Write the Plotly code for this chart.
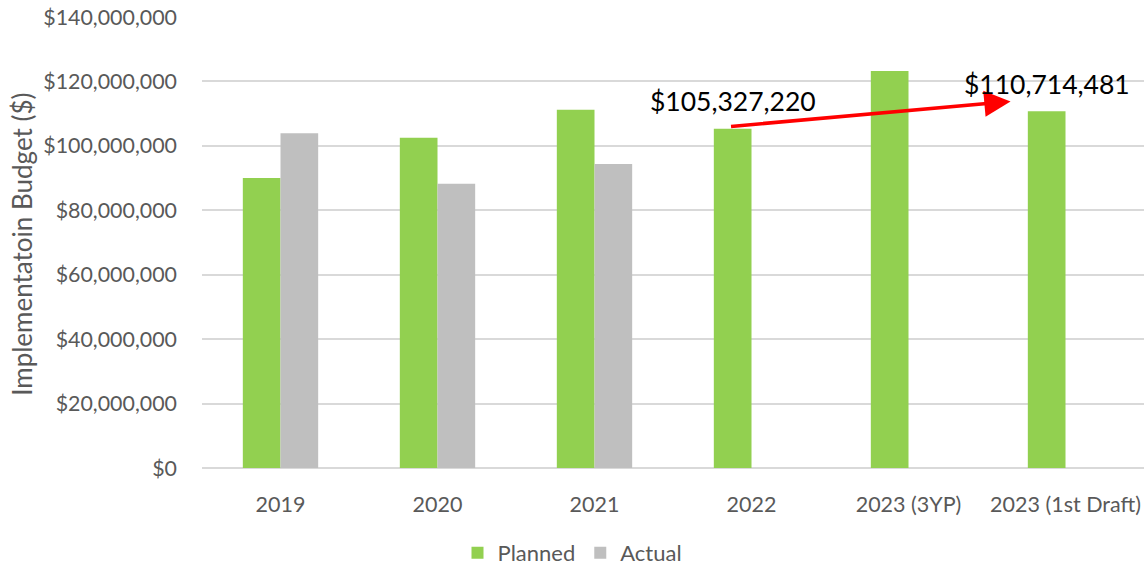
import plotly.graph_objects as go

# Budget figures per year
categories = ["2019", "2020", "2021", "2022", "2023 (3YP)", "2023 (1st Draft)"]
planned = [90_000_000, 102_500_000, 111_200_000, 105_327_220, 123_200_000, 110_714_481]
actual = [103_900_000, 88_200_000, 94_400_000, None, None, None]
y_ticks = list(range(0, 140_000_001, 20_000_000))
y_tick_labels = [f"${v:,.0f}" for v in y_ticks]

FONT = "Lato"
GREY_TEXT = "#595959"

fig = go.Figure()
fig.add_trace(go.Bar(name="Planned", x=categories, y=planned,
                     marker=dict(color="#92D050", line=dict(width=0))))
fig.add_trace(go.Bar(name="Actual", x=categories, y=actual,
                     marker=dict(color="#BFBFBF", line=dict(width=0))))

# Arrow from the 2022 plan to the 2023 first draft
fig.add_annotation(x=4.65, y=113.8e6, ax=2.86, ay=106.0e6,
                   xref="x", yref="y", axref="x", ayref="y",
                   text="", showarrow=True, arrowhead=2, arrowsize=1.5,
                   arrowwidth=3.5, arrowcolor="#FF0000")
fig.add_annotation(x=2.885, y=113.8e6, xref="x", yref="y",
                   text=f"${planned[3]:,.0f}", showarrow=False,
                   font=dict(family=FONT, size=26.5, color="#000000"))
fig.add_annotation(x=4.88, y=119.1e6, xref="x", yref="y",
                   text=f"${planned[5]:,.0f}", showarrow=False,
                   font=dict(family=FONT, size=26.5, color="#000000"))

# Y-axis title
fig.add_annotation(x=-0.191, y=0.495, xref="paper", yref="paper",
                   xanchor="center", yanchor="middle",
                   text="Implementatoin Budget ($)", textangle=-90,
                   showarrow=False,
                   font=dict(family=FONT, size=26, color=GREY_TEXT))

fig.update_layout(
    width=1145, height=566,
    margin=dict(l=202, r=1, t=17, b=98, autoexpand=False),
    paper_bgcolor="white", plot_bgcolor="white",
    barmode="group", bargap=0.52, bargroupgap=0,
    font=dict(family=FONT, color=GREY_TEXT),
    showlegend=True,
    legend=dict(orientation="h", x=0.5, xanchor="center", xref="container",
                y=0.023, yanchor="middle", yref="container",
                font=dict(family=FONT, size=22, color=GREY_TEXT),
                itemsizing="constant", itemwidth=30, traceorder="normal"),
)
fig.update_xaxes(type="category", showgrid=False, showline=False,
                 zeroline=False, ticks="", ticklabelstandoff=21,
                 tickfont=dict(family=FONT, size=21.5, color=GREY_TEXT))
fig.update_yaxes(range=[0, 140_000_000], tickvals=y_ticks,
                 ticktext=y_tick_labels, showgrid=True,
                 gridcolor="#D9D9D9", gridwidth=1.5, zeroline=True,
                 zerolinecolor="#D9D9D9", zerolinewidth=1.5,
                 showline=False, ticks="", ticklabelstandoff=24,
                 tickfont=dict(family=FONT, size=21.4, color=GREY_TEXT))

fig.write_html("out.html")
